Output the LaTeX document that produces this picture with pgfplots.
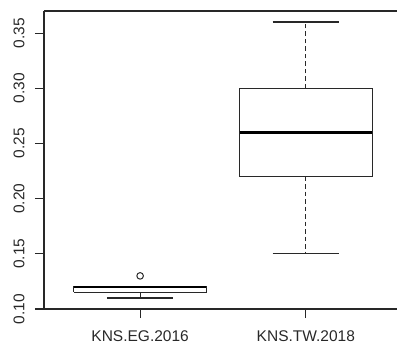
\documentclass[border=0pt]{standalone}
\usepackage{pgfplots}
\pgfplotsset{compat=1.18}
\usetikzlibrary{calc}
\usepackage{fontspec}
\setmainfont{Liberation Sans}
\definecolor{ln}{RGB}{40,40,40}
\begin{document}
\begin{tikzpicture}
\begin{axis}[
  name=ax,
  scale only axis,
  width=353pt, height=298pt,
  xmin=0.42, xmax=2.55,
  ymin=0.10, ymax=0.37,
  axis x line*=box, axis y line*=left,
  axis line style={ln, line width=1.2pt},
  xtick={1,2},
  xticklabels={KNS.EG.2016, KNS.TW.2018},
  xtick pos=left, ytick pos=left,
  ytick={0.10,0.15,0.20,0.25,0.30,0.35},
  yticklabel style={rotate=90, anchor=south, /pgf/number format/fixed, /pgf/number format/fixed zerofill, /pgf/number format/precision=2},
  yticklabel shift=7pt,
  xticklabel shift=9pt,
  ticklabel style={font=\fontsize{15.5}{18}\selectfont, text=ln},
  /pgf/number format/assume math mode=true,
  tick align=outside,
  major tick length=9pt,
  tick style={ln, line width=1.1pt},
  clip=false,
]
% --- KNS.EG.2016 (x = 1): lower whisker 0.11, Q1 0.115, median 0.12, Q3 0.12, upper whisker 0.12, outlier 0.13
\addplot[ln, line width=1.1pt, dash pattern=on 4.5pt off 3pt] coordinates {(1,0.115) (1,0.11)};
\addplot[ln, line width=1.1pt] coordinates {(0.8,0.11) (1.2,0.11)};
\addplot[ln, line width=1.1pt] coordinates {(0.8,0.12) (1.2,0.12)};
\addplot[ln, line width=1.1pt] coordinates {(0.6,0.115) (1.4,0.115) (1.4,0.12) (0.6,0.12) (0.6,0.115)};
\addplot[black, line width=2.6pt] coordinates {(0.6,0.12) (1.4,0.12)};
\addplot[ln, only marks, mark=o, mark size=3.3pt, mark options={line width=1pt}] coordinates {(1,0.13)};
% --- KNS.TW.2018 (x = 2): lower whisker 0.15, Q1 0.22, median 0.26, Q3 0.30, upper whisker 0.36
\addplot[ln, line width=1.1pt, dash pattern=on 4.5pt off 3pt] coordinates {(2,0.22) (2,0.15)};
\addplot[ln, line width=1.1pt, dash pattern=on 4.5pt off 3pt] coordinates {(2,0.30) (2,0.36)};
\addplot[ln, line width=1.1pt] coordinates {(1.8,0.15) (2.2,0.15)};
\addplot[ln, line width=1.1pt] coordinates {(1.8,0.36) (2.2,0.36)};
\addplot[ln, line width=1.1pt] coordinates {(1.6,0.22) (2.4,0.22) (2.4,0.30) (1.6,0.30) (1.6,0.22)};
\addplot[black, line width=2.6pt] coordinates {(1.6,0.26) (2.4,0.26)};
\end{axis}
\pgfresetboundingbox
\path[use as bounding box] ($(ax.south west)+(-44pt,-37pt)$) rectangle ($(ax.north east)+(0pt,11pt)$);
\end{tikzpicture}
\end{document}
